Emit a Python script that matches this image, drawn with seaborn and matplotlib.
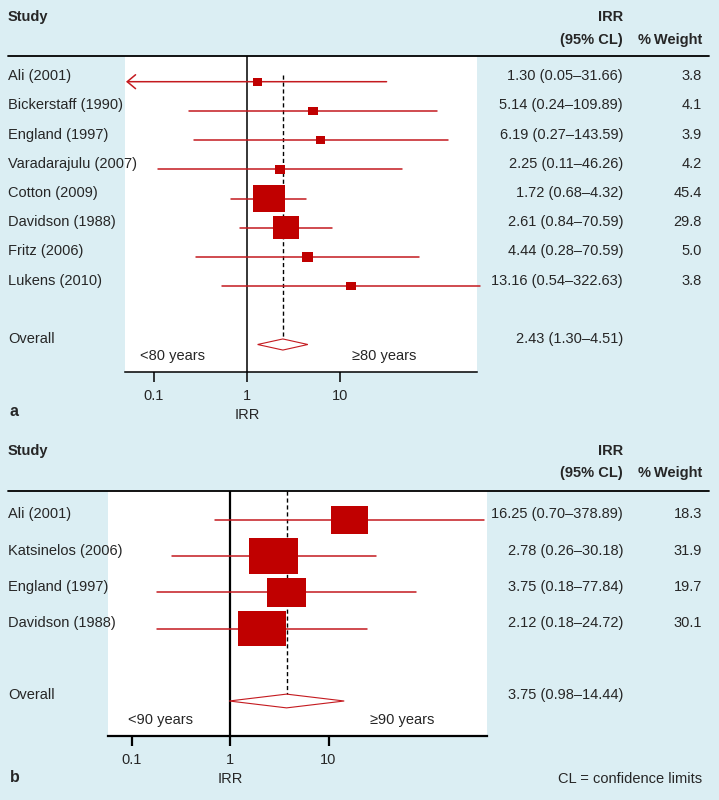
import numpy as np
import pandas as pd
import matplotlib.pyplot as plt
import matplotlib.transforms as mtransforms
from matplotlib.lines import Line2D
from matplotlib.path import Path
import seaborn as sns

sns.set_style("white")
plt.rcParams['font.family'] = ['Liberation Sans', 'DejaVu Sans']

BG = '#dbeef3'
RED = '#c00000'
LINE_RED = '#c41a1f'
FS = 10.5

# Panel a data
studies_a = ['Ali (2001)', 'Bickerstaff (1990)', 'England (1997)', 'Varadarajulu (2007)',
             'Cotton (2009)', 'Davidson (1988)', 'Fritz (2006)', 'Lukens (2010)']
irr_a = [1.30, 5.14, 6.19, 2.25, 1.72, 2.61, 4.44, 13.16]
lo_a = [0.05, 0.24, 0.27, 0.11, 0.68, 0.84, 0.28, 0.54]
hi_a = [31.66, 109.89, 143.59, 46.26, 4.32, 8.1, 70.59, 322.63]  # Davidson line is drawn to ~8
weight_a = [3.8, 4.1, 3.9, 4.2, 45.4, 29.8, 5.0, 3.8]
cilab_a = ['1.30 (0.05–31.66)', '5.14 (0.24–109.89)', '6.19 (0.27–143.59)', '2.25 (0.11–46.26)',
           '1.72 (0.68–4.32)', '2.61 (0.84–70.59)', '4.44 (0.28–70.59)', '13.16 (0.54–322.63)']
overall_a = [2.43, 1.30, 4.51]
overall_lab_a = '2.43 (1.30–4.51)'

# Panel b data
studies_b = ['Ali (2001)', 'Katsinelos (2006)', 'England (1997)', 'Davidson (1988)']
irr_b = [16.25, 2.78, 3.75, 2.12]
lo_b = [0.70, 0.26, 0.18, 0.18]
hi_b = [378.89, 30.18, 77.84, 24.72]
weight_b = [18.3, 31.9, 19.7, 30.1]
cilab_b = ['16.25 (0.70–378.89)', '2.78 (0.26–30.18)', '3.75 (0.18–77.84)', '2.12 (0.18–24.72)']
overall_b = [3.75, 0.98, 14.44]
overall_lab_b = '3.75 (0.98–14.44)'

W, H = 719, 800
fig = plt.figure(figsize=(W / 100, H / 100), dpi=100)
fig.patch.set_facecolor(BG)


def fy(y):
    return 1 - y / H


def forest(studies, irr, lo, hi, weight, cilab, overall, overall_lab,
           left, right, top, bottom, row0, step, x0, x1, kscale, aspect,
           group_labels, group_x, dash_start, head_y, panel_letter, vlw):
    ax = fig.add_axes([left / W, fy(bottom), (right - left) / W, (bottom - top) / H])
    ax.set_facecolor('white')
    n = len(studies)
    rows = list(range(n))
    orow = n + 1
    df = pd.DataFrame({'irr': irr, 'lo': lo, 'hi': hi, 'w': weight, 'row': rows})

    # CI lines
    for _, r in df.iterrows():
        if r['lo'] < 0.06:
            ax.annotate('', xy=(r['lo'], r['row']), xytext=(r['hi'], r['row']),
                        arrowprops=dict(arrowstyle='->,head_length=0.6,head_width=0.5',
                                        color=LINE_RED, lw=1.1, shrinkA=0, shrinkB=0))
        else:
            ax.plot([r['lo'], r['hi']], [r['row'], r['row']], color=LINE_RED, lw=1.1,
                    clip_on=False, zorder=2)

    # squares sized by weight
    a = aspect
    rect = Path([(-1, -a), (1, -a), (1, a), (-1, a), (-1, -a)], closed=True)
    sns.scatterplot(data=df, x='irr', y='row', marker=rect, s=kscale * df['w'].values,
                    color=RED, linewidth=0, legend=False, ax=ax, zorder=3)

    # overall diamond
    est, olo, ohi = overall
    dh = 0.19
    ax.fill([olo, est, ohi, est, olo], [orow, orow - dh, orow, orow + dh, orow],
            facecolor='none', edgecolor=LINE_RED, lw=0.8, zorder=3)
    ax.plot([est, est], [dash_start, orow - dh], color='black', lw=1.0,
            dashes=(3, 2), zorder=1)
    ax.axvline(1, color='black', lw=vlw, zorder=1)

    ax.set_xscale('log')
    ax.set_xlim(x0, x1)
    ytop = (top - row0) / step
    ybot = (bottom - row0) / step
    ax.set_ylim(ybot, ytop)
    ax.set_xticks([0.1, 1, 10])
    ax.set_xticklabels(['0.1', '1', '10'])
    ax.xaxis.set_minor_locator(plt.NullLocator())
    ax.set_yticks([])
    ax.set_xlabel('')
    ax.set_ylabel('')
    for s in ['top', 'left', 'right']:
        ax.spines[s].set_visible(False)
    ax.spines['bottom'].set_color('black')
    ax.spines['bottom'].set_linewidth(vlw)
    ax.tick_params(axis='x', bottom=True, direction='out', length=7, width=vlw,
                   color='black', pad=5, labelsize=FS)
    ax.annotate('IRR', xy=(1, 0), xycoords=('data', 'axes fraction'),
                xytext=(0, -26), textcoords='offset points', ha='center', va='top',
                fontsize=FS)

    # text columns
    blend = mtransforms.blended_transform_factory(fig.transFigure, ax.transData)
    tr = mtransforms.offset_copy(blend, fig=fig, y=4, units='points')
    for i in range(n):
        fig.text(8 / W, rows[i], studies[i], transform=tr, ha='left', va='center', fontsize=FS)
        fig.text(623 / W, rows[i], cilab[i], transform=tr, ha='right', va='center', fontsize=FS)
        fig.text(702 / W, rows[i], f'{weight[i]:.1f}', transform=tr, ha='right', va='center',
                 fontsize=FS)
    fig.text(8 / W, orow, 'Overall', transform=tr, ha='left', va='center', fontsize=FS)
    fig.text(623 / W, orow, overall_lab, transform=tr, ha='right', va='center', fontsize=FS)

    # headers
    hy1, hy2 = head_y
    fig.text(8 / W, fy(hy1), 'Study', ha='left', va='center', fontsize=FS, fontweight='bold')
    fig.text(623 / W, fy(hy1), 'IRR', ha='right', va='center', fontsize=FS, fontweight='bold')
    fig.text(623 / W, fy(hy2), '(95% CL)', ha='right', va='center', fontsize=FS,
             fontweight='bold')
    fig.text(702 / W, fy(hy2), '%\u2009Weight', ha='right', va='center', fontsize=FS,
             fontweight='bold')
    fig.add_artist(Line2D([8 / W, 709 / W], [fy(top), fy(top)], transform=fig.transFigure,
                          color='black', lw=1.3))

    # group labels
    gy = (bottom - 16 - row0) / step
    gtr = mtransforms.blended_transform_factory(fig.transFigure, ax.transData)
    ax.text(group_x[0], gy, group_labels[0], transform=gtr, ha='left', va='center', fontsize=FS)
    ax.text(group_x[1], gy, group_labels[1], transform=gtr, ha='left', va='center', fontsize=FS)

    fig.text(10 / W, fy(panel_letter[1]), panel_letter[0], ha='left', va='center',
             fontsize=FS + 1, fontweight='bold')
    return ax


forest(studies_a, irr_a, lo_a, hi_a, weight_a, cilab_a, overall_a, overall_lab_a,
       left=125, right=477, top=56, bottom=372, row0=81.7, step=29.2,
       x0=10 ** -1.312, x1=10 ** 2.473, kscale=11.7, aspect=0.874,
       group_labels=['<80 years', '\u226580 years'], group_x=[140 / W, 352 / W],
       dash_start=-0.23, head_y=(17, 40), panel_letter=('a', 412), vlw=1.1)

forest(studies_b, irr_b, lo_b, hi_b, weight_b, cilab_b, overall_b, overall_lab_b,
       left=108, right=487, top=491, bottom=736, row0=520, step=36.2,
       x0=10 ** -1.2386, x1=10 ** 2.609, kscale=39.2, aspect=0.735,
       group_labels=['<90 years', '\u226590 years'], group_x=[128 / W, 370 / W],
       dash_start=-0.80, head_y=(451, 473), panel_letter=('b', 778), vlw=1.6)

fig.text(702 / W, fy(779), 'CL = confidence limits', ha='right', va='center', fontsize=FS)

plt.savefig('out.png', dpi=100, facecolor=fig.get_facecolor())
plt.close()
